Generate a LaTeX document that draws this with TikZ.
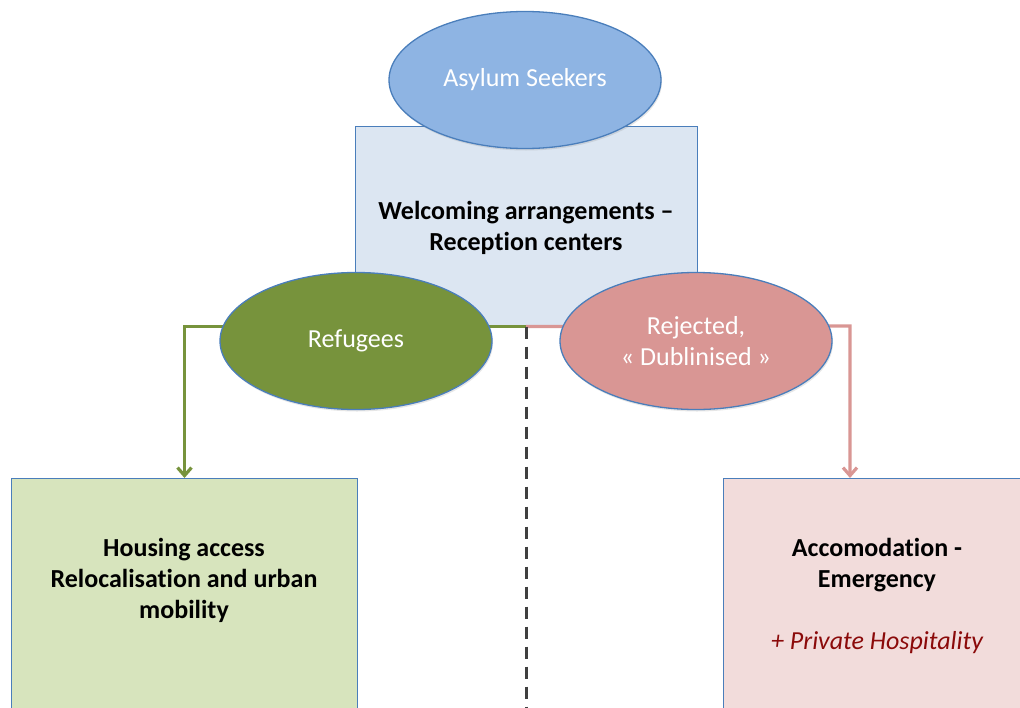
\documentclass[tikz,border=0pt]{standalone}
\usepackage{fontspec}
\setmainfont[Ligatures={TeX,NoCommon}]{Carlito}
\usepackage{tikz}
\usetikzlibrary{shapes.geometric}
\usetikzlibrary{arrows.meta}
\usetikzlibrary{positioning}
\usetikzlibrary{shadows}
\definecolor{AsylumBlue}{HTML}{8EB4E3}
\definecolor{BorderBlue}{HTML}{4A7EBB}
\definecolor{CenterBlue}{HTML}{DCE6F2}
\definecolor{RefugeeGreen}{HTML}{77933C}
\definecolor{RejectPink}{HTML}{D99694}
\definecolor{HousingGreen}{HTML}{D7E4BD}
\definecolor{AccomPink}{HTML}{F2DCDB}
\definecolor{HospRed}{HTML}{8B0A0A}
\definecolor{DashGray}{HTML}{404040}

\begin{document}
\begin{tikzpicture}[x=1pt, y=-1pt,
  rect/.style={draw=BorderBlue, line width=1pt, inner sep=0pt},
  bubble/.style={ellipse, draw=BorderBlue, line width=1.3pt, inner sep=0pt,
    minimum width=272pt, minimum height=137pt, text=white, align=center,
    font=\fontsize{26}{31}\selectfont,
    drop shadow={opacity=0.2, shadow xshift=1pt, shadow yshift=-2pt}},
  boldtxt/.style={font=\fontsize{26}{31}\selectfont\bfseries, align=center, inner sep=0pt},
  greenlink/.style={draw=RefugeeGreen, line width=3.2pt,
    arrows=-{Straight Barb[length=8pt, width=14pt]}},
  pinklink/.style={draw=RejectPink, line width=3.2pt,
    arrows=-{Straight Barb[length=8pt, width=14pt]}},
  dashlink/.style={draw=DashGray, line width=3pt, dash pattern=on 12pt off 8pt}]

% page frame
\useasboundingbox (0,0) rectangle (1020,707);
\clip (0,0) rectangle (1020,707);

% Reception box
\node[rect, fill=CenterBlue, minimum width=342pt, minimum height=200pt]
  (center) at (526,226) {};
\node[boldtxt] (centertxt) at (526,228) {Welcoming arrangements --\\Reception centers};

% lower boxes (cut by the page)
\node[rect, fill=HousingGreen, minimum width=346pt, minimum height=260pt, anchor=north west]
  (housing) at (11,478) {};
\node[boldtxt] (housingtxt) at (184,580) {Housing access\\Relocalisation and urban\\mobility};

\node[rect, fill=AccomPink, minimum width=310pt, minimum height=260pt, anchor=north west]
  (accom) at (723,478) {};
\node[boldtxt] (accomtxt) at (877,596)
  {Accomodation -\\Emergency\\[31pt]{\mdseries\itshape\color{HospRed}+ Private Hospitality}};

% links
\coordinate (rturn) at (850,326);
\coordinate (floor) at (526,730);
\draw[greenlink] (center.south) -| (housing.north);
\draw[pinklink] (center.south) -- (rturn) -- (rturn |- accom.north);

% split line
\draw[dashlink] (center.south) -- (floor);

% ellipses
\node[bubble, fill=AsylumBlue] (asylum) at (525,80) {Asylum Seekers};
\node[bubble, fill=RefugeeGreen] (refugees) at (356,341) {Refugees};
\node[bubble, fill=RejectPink] (rejected) at (696,341) {Rejected,\\« Dublinised »};

\end{tikzpicture}
\end{document}
